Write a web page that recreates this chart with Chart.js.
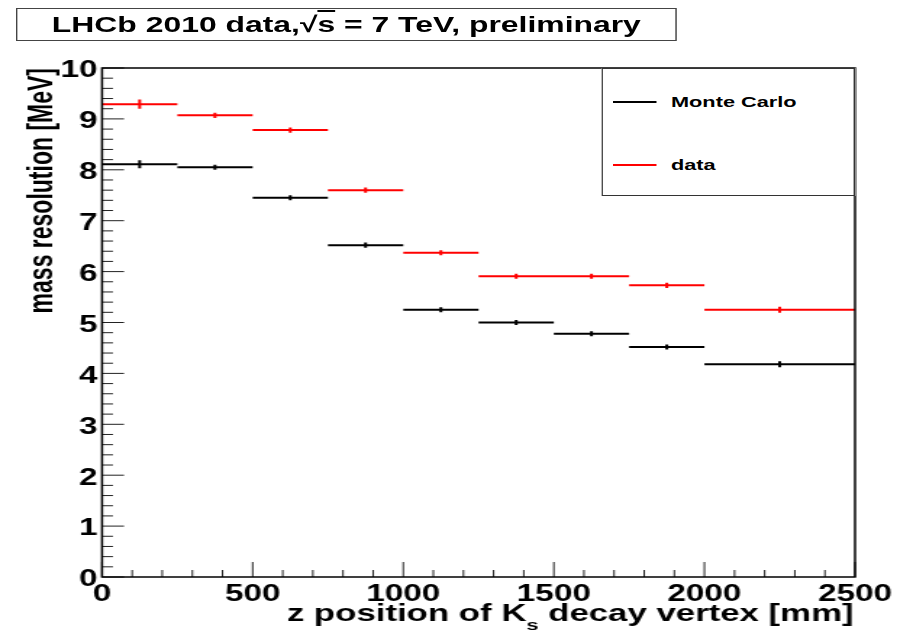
<!DOCTYPE html>
<html lang="en">
<head>
<meta charset="UTF-8">
<meta name="viewport" content="width=device-width, initial-scale=1.0">
<title>Ks mass resolution vs decay vertex z</title>
<script src="https://cdn.jsdelivr.net/npm/chart.js"></script>
<style>
    html, body { margin: 0; padding: 0; background: #fff; overflow: hidden; }
    /* the canvas is laid out 630 wide and stretched to the 913 px window */
    #stage {
        position: absolute; left: 0; top: 0; width: 630px; height: 630px;
        transform-origin: 0 0; transform: scaleX(1.4492);
        font-family: 'Liberation Sans', Arial, Helvetica, sans-serif; font-weight: bold; color: #000;
    }
    #title-box {
        position: absolute; left: 11px; top: 8px; width: 454px; height: 31px;
        border: 1px solid #444; text-align: center; font-size: 22px; line-height: 31px; white-space: nowrap;
    }
    #title-box .root { text-decoration: overline; }
    #legend {
        position: absolute; left: 415px; top: 68px; width: 173px; height: 126px;
        background: #fff; border: 1px solid #333;
    }
    .swatch { position: absolute; left: 7px; width: 30px; height: 2px; }
    .entry-label { position: absolute; left: 47px; font-size: 15px; line-height: 18px; }
</style>
</head>
<body>
<div id="stage">
    <canvas id="res-chart" width="630" height="630"></canvas>
    <div id="title-box">LHCb 2010 data,&#8730;<span class="root">s</span> = 7 TeV, preliminary</div>
    <div id="legend"></div>
</div>

<script>
    // z bins [mm] and the fitted K0s mass resolution per bin [MeV]
    const binEdges = [0, 250, 500, 750, 1000, 1250, 1500, 1750, 2000, 2500];
    const mcSigma = [8.11, 8.05, 7.45, 6.52, 5.25, 5.00, 4.78, 4.52, 4.18];
    const mcSigmaErr = [0.08, 0.05, 0.05, 0.05, 0.05, 0.05, 0.05, 0.05, 0.06];
    const dataSigma = [9.29, 9.07, 8.78, 7.60, 6.37, 5.91, 5.91, 5.73, 5.25];
    const dataSigmaErr = [0.09, 0.05, 0.05, 0.05, 0.05, 0.05, 0.05, 0.05, 0.06];

    const seriesNames = ['Monte Carlo', 'data'];
    const seriesColors = ['#000000', '#ff0000'];

    const xRange = [0, 2500];
    const yRange = [0, 10];
    const xMajorStep = 500, xMinorStep = 100;
    const yMajorStep = 1, yMinorStep = 0.2;

    const yAxisTitle = 'mass resolution [MeV]';
    const xAxisTitle = ['z position of K', 's', ' decay vertex [mm]'];

    const FONT = "'Liberation Sans', Arial, Helvetica, sans-serif";

    // horizontal bar across each bin, broken between bins
    function binSegments(values) {
        const pts = [];
        values.forEach((v, i) => {
            pts.push({ x: binEdges[i], y: v }, { x: binEdges[i + 1], y: v }, { x: binEdges[i + 1], y: null });
        });
        return pts;
    }

    // vertical error bar at each bin centre
    function errorBars(values, errs) {
        const pts = [];
        values.forEach((v, i) => {
            const c = (binEdges[i] + binEdges[i + 1]) / 2;
            pts.push({ x: c, y: v - errs[i] }, { x: c, y: v + errs[i] }, { x: c, y: null });
        });
        return pts;
    }

    function lineSet(label, data, color) {
        return {
            label: label,
            data: data,
            showLine: true,
            spanGaps: false,
            borderColor: color,
            borderWidth: 2,
            pointRadius: 0,
            fill: false
        };
    }

    // ROOT-style frame with ticks pointing inward, plus the x title with its subscript
    const frameAndTicks = {
        id: 'frameAndTicks',
        afterDatasetsDraw(chart) {
            const { ctx, chartArea: a, scales: { x, y } } = chart;
            ctx.save();

            ctx.strokeStyle = '#222';
            ctx.lineWidth = 1;
            ctx.beginPath();
            for (let v = xRange[0]; v <= xRange[1] + 1e-6; v += xMinorStep) {
                const px = x.getPixelForValue(v);
                const len = Math.abs(v % xMajorStep) < 1e-6 ? 15 : 7;
                ctx.moveTo(px, a.bottom);
                ctx.lineTo(px, a.bottom - len);
            }
            for (let i = 0; i <= Math.round((yRange[1] - yRange[0]) / yMinorStep); i++) {
                const v = yRange[0] + i * yMinorStep;
                const py = y.getPixelForValue(v);
                const len = i % Math.round(yMajorStep / yMinorStep) === 0 ? 15.2 : 7.6;
                ctx.moveTo(a.left, py);
                ctx.lineTo(a.left + len, py);
            }
            ctx.stroke();

            ctx.strokeStyle = '#000';
            ctx.lineWidth = 1.5;
            ctx.strokeRect(a.left, a.top, a.right - a.left, a.bottom - a.top);

            // x axis title, right aligned to the frame
            ctx.fillStyle = '#000';
            ctx.textBaseline = 'alphabetic';
            const big = 'bold 24px ' + FONT, small = 'bold 15px ' + FONT;
            ctx.font = big;
            const w0 = ctx.measureText(xAxisTitle[0]).width;
            const w2 = ctx.measureText(xAxisTitle[2]).width;
            ctx.font = small;
            const w1 = ctx.measureText(xAxisTitle[1]).width;
            let tx = a.right - 1 - (w0 + w1 + w2);
            const base = 621;
            ctx.font = big;
            ctx.fillText(xAxisTitle[0], tx, base);
            tx += w0;
            ctx.font = small;
            ctx.fillText(xAxisTitle[1], tx, base + 9);
            tx += w1;
            ctx.font = big;
            ctx.fillText(xAxisTitle[2], tx, base);

            ctx.restore();
        }
    };

    const ctx = document.getElementById('res-chart').getContext('2d');
    const chart = new Chart(ctx, {
        type: 'scatter',
        data: {
            datasets: [
                lineSet(seriesNames[0], binSegments(mcSigma), seriesColors[0]),
                lineSet(seriesNames[0] + ' err', errorBars(mcSigma, mcSigmaErr), seriesColors[0]),
                lineSet(seriesNames[1], binSegments(dataSigma), seriesColors[1]),
                lineSet(seriesNames[1] + ' err', errorBars(dataSigma, dataSigmaErr), seriesColors[1])
            ]
        },
        options: {
            responsive: false,
            animation: false,
            devicePixelRatio: 1,
            layout: { padding: { top: 68, right: 40, left: 0, bottom: 0 } },
            plugins: {
                legend: { display: false },
                tooltip: { enabled: false }
            },
            scales: {
                x: {
                    type: 'linear',
                    min: xRange[0], max: xRange[1],
                    grid: { display: false, drawTicks: false },
                    border: { display: false },
                    ticks: {
                        stepSize: xMajorStep,
                        padding: 4,
                        color: '#000',
                        font: { family: FONT, size: 23, weight: 'bold' },
                        maxRotation: 0,
                        callback: (v) => String(v)
                    },
                    afterFit(scale) { scale.height = 53; }
                },
                y: {
                    type: 'linear',
                    min: yRange[0], max: yRange[1],
                    grid: { display: false, drawTicks: false },
                    border: { display: false },
                    ticks: {
                        stepSize: yMajorStep,
                        padding: 3,
                        labelOffset: 3,
                        color: '#000',
                        font: { family: FONT, size: 23, weight: 'bold' },
                        callback: (v) => String(v)
                    },
                    title: {
                        display: true,
                        text: yAxisTitle,
                        align: 'end',
                        color: '#000',
                        font: { family: FONT, size: 23, weight: 'bold' },
                        padding: { top: 16, bottom: 0 }
                    },
                    afterFit(scale) { scale.width = 70.4; }
                }
            }
        },
        plugins: [frameAndTicks]
    });

    // legend box drawn over the top right corner of the frame
    const legend = document.getElementById('legend');
    const entryY = [33, 96];
    seriesNames.forEach((name, i) => {
        const sw = document.createElement('div');
        sw.className = 'swatch';
        sw.style.top = (entryY[i] - 1) + 'px';
        sw.style.background = seriesColors[i];
        legend.appendChild(sw);
        const lab = document.createElement('div');
        lab.className = 'entry-label';
        lab.style.top = (entryY[i] - 9) + 'px';
        lab.textContent = name;
        legend.appendChild(lab);
    });
</script>
</body>
</html>
